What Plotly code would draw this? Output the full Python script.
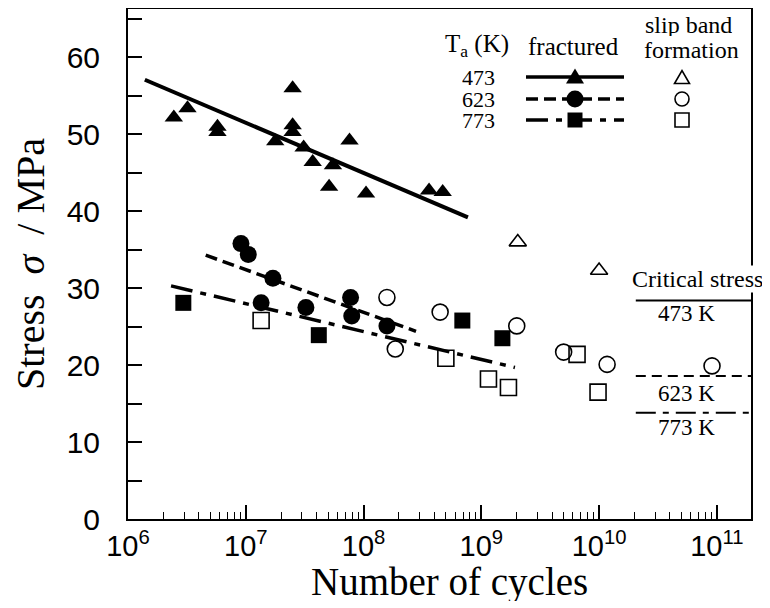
import plotly.graph_objects as go

# ---------------- data ----------------
# Ta = 473 K, fractured
n_473_frac = [2.45e6, 3.2e6, 5.75e6, 5.75e6, 1.78e7, 2.5e7, 2.5e7, 2.5e7,
              3.1e7, 3.7e7, 5.5e7, 5.1e7, 7.6e7, 1.05e8, 3.6e8, 4.7e8]
s_473_frac = [52.2, 53.4, 51.0, 50.3, 49.1, 56.0, 51.2, 50.3,
              48.3, 46.4, 46.0, 43.2, 49.2, 42.3, 42.7, 42.5]
n_473_fit = [1.39e6, 7.7e8]
s_473_fit = [57.1, 39.2]
# Ta = 473 K, slip band formation
n_473_slip = [2.04e9, 1.0e10]
s_473_slip = [36.0, 32.3]

# Ta = 623 K, fractured
n_623_frac = [9.1e6, 1.05e7, 1.7e7, 1.35e7, 3.24e7, 7.76e7, 7.94e7, 1.58e8]
s_623_frac = [35.8, 34.4, 31.3, 28.1, 27.5, 28.8, 26.4, 25.1]
n_623_fit = [4.57e6, 2.79e8]
s_623_fit = [34.3, 24.4]
# Ta = 623 K, slip band formation
n_623_slip = [1.58e8, 1.86e8, 4.47e8, 2.0e9, 5.0e9, 1.17e10, 9.1e10]
s_623_slip = [28.8, 22.1, 26.9, 25.1, 21.7, 20.1, 19.9]

# Ta = 773 K, fractured
n_773_frac = [2.95e6, 4.17e7, 6.9e8, 1.51e9]
s_773_frac = [28.1, 23.9, 25.8, 23.5]
n_773_fit = [2.32e6, 1.93e9]
s_773_fit = [30.3, 19.7]
# Ta = 773 K, slip band formation
n_773_slip = [1.35e7, 5.0e8, 1.15e9, 1.7e9, 6.5e9, 9.8e9]
s_773_slip = [25.8, 20.9, 18.2, 17.1, 21.4, 16.5]

# critical stress levels
crit_labels = ["473 K", "623 K", "773 K"]
crit_stress = [28.4, 18.6, 13.8]
crit_n = [2.05e10, 1.95e11]

legend_temps = ["473", "623", "773"]

x_tickvals = [1e6, 1e7, 1e8, 1e9, 1e10, 1e11]
x_ticktext = ["10<sup>6</sup>", "10<sup>7</sup>", "10<sup>8</sup>",
              "10<sup>9</sup>", "10<sup>10</sup>", "10<sup>11</sup>"]
y_tickvals = [0, 10, 20, 30, 40, 50, 60]

# ---------------- styling ----------------
# the page body has an 8px margin; screen coords = figure coords + 8
OFF = 8
W, H = 770 - OFF, 608 - OFF
PL, PR, PT, PB = 128, 751, 9, 519          # plot area in screen pixels
SERIF = "Liberation Serif, Times New Roman, serif"
SANS = "Liberation Sans, Arial, sans-serif"
BLACK = "black"


def pp(x, y):
    """screen pixel -> paper coords of the plot area"""
    return (x - PL) / (PR - PL), (PB - y) / (PB - PT)


fig = go.Figure()

# fit lines
fig.add_trace(go.Scatter(x=n_473_fit, y=s_473_fit, mode="lines",
                         line=dict(color=BLACK, width=4)))
fig.add_trace(go.Scatter(x=n_623_fit, y=s_623_fit, mode="lines",
                         line=dict(color=BLACK, width=3.5, dash="12px,6px")))
fig.add_trace(go.Scatter(x=n_773_fit, y=s_773_fit, mode="lines",
                         line=dict(color=BLACK, width=3.5, dash="22px,8px,6px,8px")))

# critical stress lines
crit_dash = ["solid", "10px,6px", "20px,7px,6px,7px"]
for s, d in zip(crit_stress, crit_dash):
    fig.add_trace(go.Scatter(x=crit_n, y=[s, s], mode="lines",
                             line=dict(color=BLACK, width=2, dash=d),
                             cliponaxis=False))

# fractured (filled)
fig.add_trace(go.Scatter(x=n_473_frac, y=s_473_frac, mode="markers",
                         marker=dict(symbol="triangle-up", size=16, color=BLACK)))
fig.add_trace(go.Scatter(x=n_623_frac, y=s_623_frac, mode="markers",
                         marker=dict(symbol="circle", size=17, color=BLACK)))
fig.add_trace(go.Scatter(x=n_773_frac, y=s_773_frac, mode="markers",
                         marker=dict(symbol="square", size=16, color=BLACK)))

# slip band formation (open)
fig.add_trace(go.Scatter(x=n_473_slip, y=s_473_slip, mode="markers",
                         marker=dict(symbol="triangle-up-open", size=15,
                                     color=BLACK, line=dict(width=1.6))))
fig.add_trace(go.Scatter(x=n_623_slip, y=s_623_slip, mode="markers",
                         marker=dict(symbol="circle-open", size=16,
                                     color=BLACK, line=dict(width=1.6))))
fig.add_trace(go.Scatter(x=n_773_slip, y=s_773_slip, mode="markers",
                         marker=dict(symbol="square-open", size=16,
                                     color=BLACK, line=dict(width=1.6))))

annotations = []


def add_text(text, x, y, size=22, bg=None, font=SERIF, height=None):
    ax, ay = pp(x, y)
    a = dict(text=text, x=ax, y=ay, xref="paper", yref="paper",
             xanchor="center", yanchor="middle", showarrow=False,
             font=dict(family=font, size=size, color=BLACK))
    if bg:
        a.update(bgcolor=bg, borderpad=0)
    if height:
        a.update(height=height, valign="middle")
    annotations.append(a)


# legend table text
add_text("T<sub>a</sub> (K)", 477, 46, size=25)
add_text("fractured", 573, 46, size=25, height=26)
add_text("slip band", 688, 25, size=24, height=22)
add_text("formation", 691, 50, size=24, height=24)
leg_rows = [77, 99, 120]
for lab, yy in zip(legend_temps, leg_rows):
    add_text(lab, 478, yy, size=22, height=20)

# legend keys (layout shapes)
shapes = []
leg_dash = ["solid", "12px,6px", "22px,8px,6px,8px"]
for yy, d in zip(leg_rows, leg_dash):
    x0, y0 = pp(526, yy)
    x1, _ = pp(624, yy)
    shapes.append(dict(type="line", xref="paper", yref="paper",
                       x0=x0, x1=x1, y0=y0, y1=y0,
                       line=dict(color=BLACK, width=3.5, dash=d)))


def tri(cx, cy, w, h, filled):
    a = pp(cx - w / 2, cy + h / 2)
    b = pp(cx + w / 2, cy + h / 2)
    c = pp(cx, cy - h / 2)
    path = f"M{a[0]},{a[1]} L{b[0]},{b[1]} L{c[0]},{c[1]} Z"
    return dict(type="path", xref="paper", yref="paper", path=path,
                fillcolor=BLACK if filled else "rgba(0,0,0,0)",
                line=dict(color=BLACK, width=0 if filled else 1.6))


def box(kind, cx, cy, s, filled):
    x0, y0 = pp(cx - s / 2, cy + s / 2)
    x1, y1 = pp(cx + s / 2, cy - s / 2)
    return dict(type=kind, xref="paper", yref="paper",
                x0=x0, x1=x1, y0=y0, y1=y1,
                fillcolor=BLACK if filled else "rgba(0,0,0,0)",
                line=dict(color=BLACK, width=0 if filled else 1.6))


shapes.append(tri(575, leg_rows[0] - 1, 18, 15, True))
shapes.append(box("circle", 575, leg_rows[1], 17, True))
shapes.append(box("rect", 575, leg_rows[2], 15, True))
shapes.append(tri(682, leg_rows[0], 15, 13, False))
shapes.append(box("circle", 682, leg_rows[1], 14, False))
shapes.append(box("rect", 682, leg_rows[2], 14, False))

# critical stress labels
add_text("Critical stress", 697, 279, size=24, bg="white")
for lab, yy in zip(crit_labels, [313, 393, 427]):
    add_text(lab, 686, yy, size=23, height=24)

# x-axis title (placed as annotation for exact position)
add_text("Number of cycles", 449, 582, size=39, height=38)

fig.update_layout(
    width=W, height=H,
    margin=dict(l=PL - OFF, r=W - (PR - OFF), t=PT - OFF, b=H - (PB - OFF)),
    paper_bgcolor="white", plot_bgcolor="white",
    showlegend=False,
    annotations=annotations,
    shapes=shapes,
    xaxis=dict(
        type="log", range=[6, 11.29], automargin=False,
        tickmode="array", tickvals=x_tickvals, ticktext=x_ticktext,
        ticks="inside", ticklen=14, tickwidth=1.5, tickcolor=BLACK,
        minor=dict(ticks="inside", ticklen=7, tickwidth=1.3, tickcolor=BLACK,
                   dtick="D1", showgrid=False),
        showgrid=False, zeroline=False,
        showline=True, linewidth=2, linecolor=BLACK, mirror=True,
        tickfont=dict(family=SANS, size=29, color=BLACK),
        ticklabelstandoff=0,
    ),
    yaxis=dict(
        range=[0, 66.3], automargin=False,
        tickmode="array", tickvals=y_tickvals,
        ticks="inside", ticklen=14, tickwidth=1.5, tickcolor=BLACK,
        minor=dict(ticks="inside", ticklen=14, tickwidth=1.5, tickcolor=BLACK,
                   dtick=5, tick0=0, showgrid=False),
        showgrid=False, zeroline=False,
        showline=True, linewidth=2, linecolor=BLACK, mirror=True,
        tickfont=dict(family=SANS, size=30, color=BLACK),
        ticklabelstandoff=20,
        title=dict(text="Stress  <i>σ</i>  / MPa",
                   font=dict(family=SERIF, size=40, color=BLACK), standoff=14),
    ),
)

fig.write_html("out.html")
